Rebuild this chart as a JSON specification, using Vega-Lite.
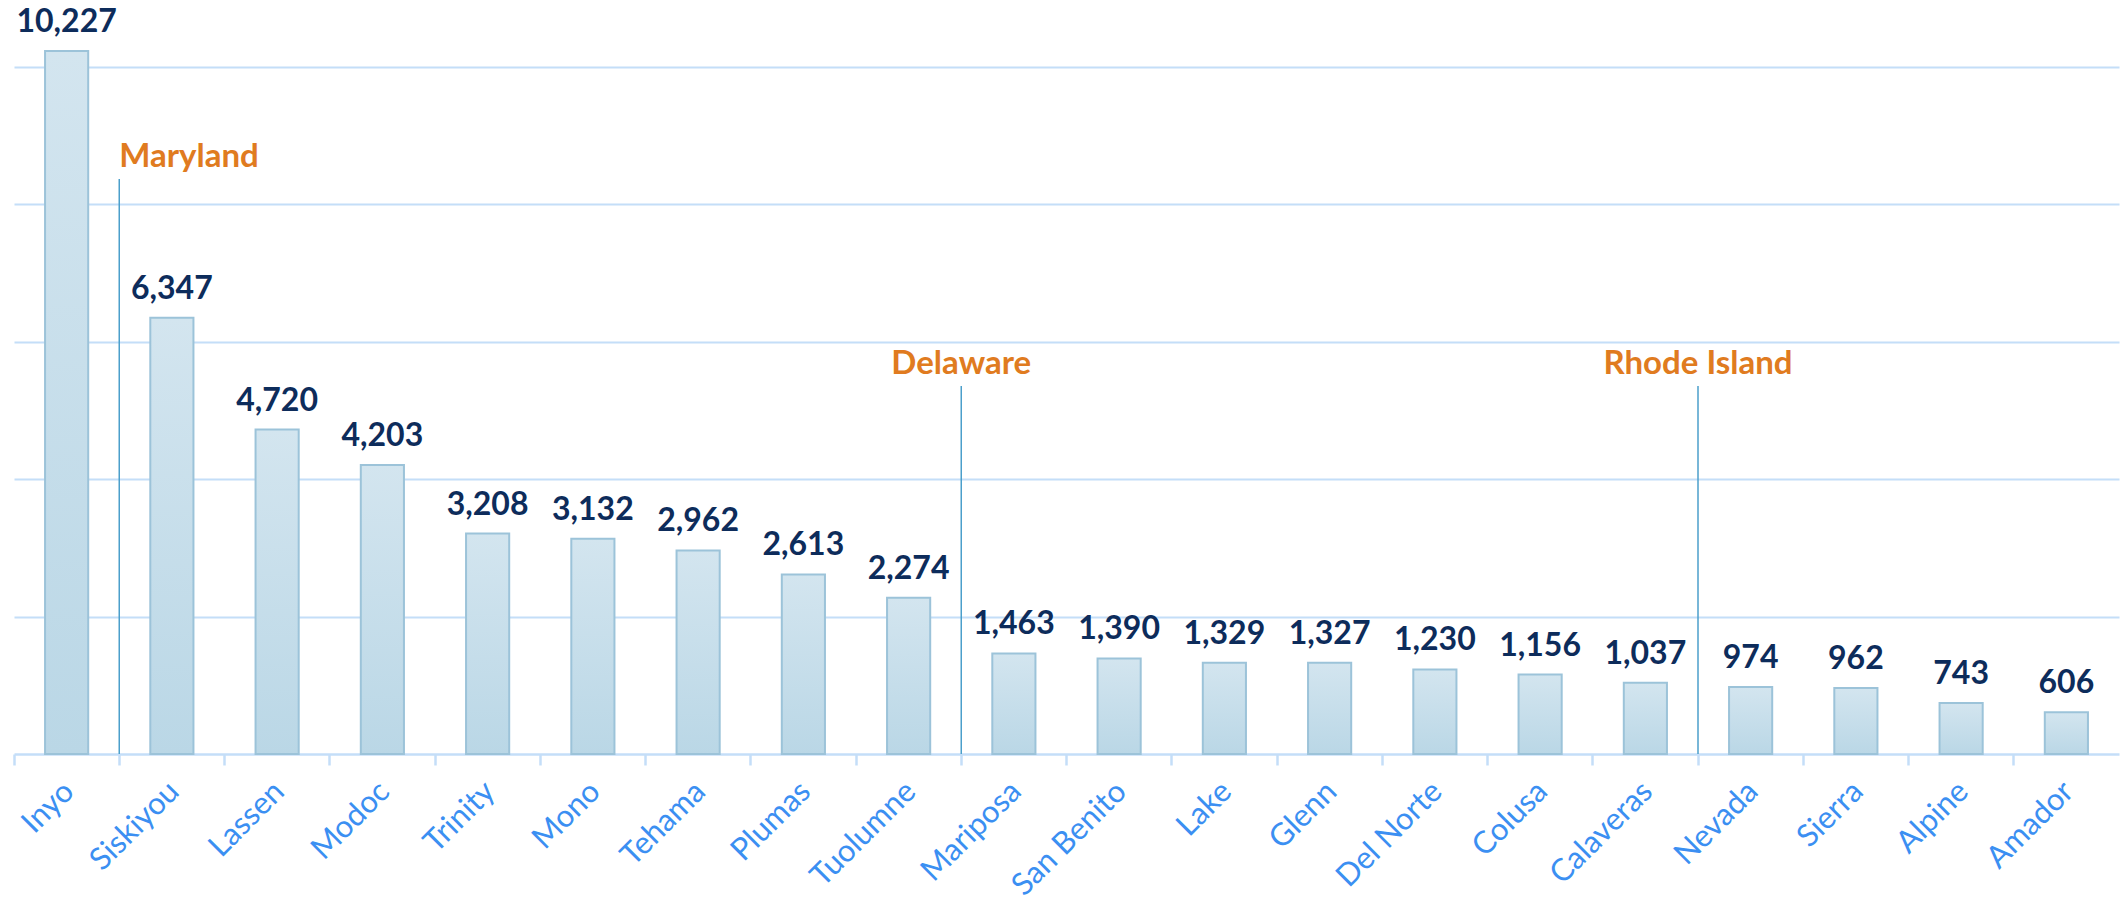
{
  "$schema": "https://vega.github.io/schema/vega-lite/v6.json",
  "width": 2105,
  "height": 754,
  "autosize": {"type": "none"},
  "padding": {"left": 14, "top": 0, "right": 3, "bottom": 157},
  "background": "white",
  "config": {"view": {"stroke": null}},
  "datasets": {
    "counties": [
      {"county": "Inyo", "area": 10227},
      {"county": "Siskiyou", "area": 6347},
      {"county": "Lassen", "area": 4720},
      {"county": "Modoc", "area": 4203},
      {"county": "Trinity", "area": 3208},
      {"county": "Mono", "area": 3132},
      {"county": "Tehama", "area": 2962},
      {"county": "Plumas", "area": 2613},
      {"county": "Tuolumne", "area": 2274},
      {"county": "Mariposa", "area": 1463},
      {"county": "San Benito", "area": 1390},
      {"county": "Lake", "area": 1329},
      {"county": "Glenn", "area": 1327},
      {"county": "Del Norte", "area": 1230},
      {"county": "Colusa", "area": 1156},
      {"county": "Calaveras", "area": 1037},
      {"county": "Nevada", "area": 974},
      {"county": "Sierra", "area": 962},
      {"county": "Alpine", "area": 743},
      {"county": "Amador", "area": 606}
    ],
    "states": [
      {"state": "Maryland", "after": "Siskiyou", "top": 8365, "pos": "left"},
      {"state": "Delaware", "after": "Mariposa", "top": 5354, "pos": "center"},
      {"state": "Rhode Island", "after": "Nevada", "top": 5354, "pos": "center"}
    ]
  },
  "layer": [
    {
      "data": {"name": "counties"},
      "mark": {
        "type": "bar",
        "width": {"band": 0.41},
        "stroke": "#9cc3d9",
        "strokeWidth": 2,
        "color": {
          "gradient": "linear",
          "x1": 0, "y1": 0, "x2": 0, "y2": 1,
          "stops": [
            {"offset": 0, "color": "#d3e5ef"},
            {"offset": 1, "color": "#bad7e6"}
          ]
        }
      },
      "encoding": {
        "x": {
          "field": "county",
          "type": "nominal",
          "sort": null,
          "scale": {"paddingInner": 0, "paddingOuter": 0},
          "axis": {
            "title": null,
            "labelAngle": -45,
            "labelFont": "Lato",
            "labelFontSize": 31,
            "labelColor": "#3b8ff2",
            "labelPadding": 11,
            "labelOffset": -8,
            "domainColor": "#c4def8",
            "domainWidth": 2.5,
            "tickColor": "#c4def8",
            "tickWidth": 2.5,
            "tickSize": 11,
            "bandPosition": 0,
            "grid": false
          }
        },
        "y": {
          "field": "area",
          "type": "quantitative",
          "scale": {"domain": [0, 10970], "nice": false},
          "axis": {
            "title": null,
            "labels": false,
            "ticks": false,
            "domain": false,
            "values": [2000, 4000, 6000, 8000, 10000],
            "gridColor": "#c4def8",
            "gridWidth": 2
          }
        }
      }
    },
    {
      "data": {"name": "counties"},
      "mark": {
        "type": "text",
        "baseline": "alphabetic",
        "dy": -19,
        "font": "Lato",
        "fontWeight": "bold",
        "fontSize": 32,
        "color": "#0d2c5b"
      },
      "encoding": {
        "x": {"field": "county", "type": "nominal", "sort": null},
        "y": {"field": "area", "type": "quantitative"},
        "text": {"field": "area", "type": "quantitative", "format": ","}
      }
    },
    {
      "data": {"name": "states"},
      "mark": {"type": "rule", "color": "#4b9fcb", "strokeWidth": 1.5},
      "encoding": {
        "x": {"field": "after", "type": "nominal", "sort": null, "bandPosition": 0},
        "y": {"field": "top", "type": "quantitative"},
        "y2": {"datum": 0}
      }
    },
    {
      "data": {"name": "states"},
      "transform": [{"filter": "datum.pos === 'left'"}],
      "mark": {
        "type": "text",
        "align": "left",
        "baseline": "alphabetic",
        "dy": -12,
        "font": "Lato",
        "fontWeight": "bold",
        "fontSize": 33,
        "color": "#e07b20"
      },
      "encoding": {
        "x": {"field": "after", "type": "nominal", "sort": null, "bandPosition": 0},
        "y": {"field": "top", "type": "quantitative"},
        "text": {"field": "state"}
      }
    },
    {
      "data": {"name": "states"},
      "transform": [{"filter": "datum.pos === 'center'"}],
      "mark": {
        "type": "text",
        "align": "center",
        "baseline": "alphabetic",
        "dy": -12,
        "font": "Lato",
        "fontWeight": "bold",
        "fontSize": 33,
        "color": "#e07b20"
      },
      "encoding": {
        "x": {"field": "after", "type": "nominal", "sort": null, "bandPosition": 0},
        "y": {"field": "top", "type": "quantitative"},
        "text": {"field": "state"}
      }
    }
  ]
}
